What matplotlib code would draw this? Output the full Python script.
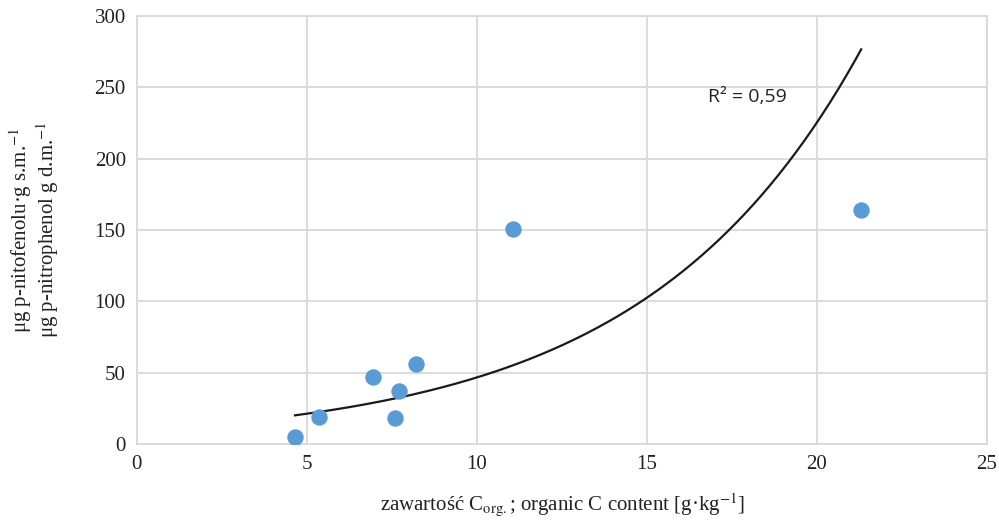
import numpy as np
import matplotlib.pyplot as plt

plt.rcParams['font.family'] = ['Liberation Serif', 'DejaVu Serif']
plt.rcParams['mathtext.fontset'] = 'stix'

# organic C content [g/kg] vs p-nitrophenol
c_org = [4.65, 5.35, 6.95, 7.6, 7.7, 8.2, 11.05, 21.3]
pnp = [5, 19, 47, 18, 37, 56, 151, 164]

# exponential trendline y = a*exp(b*x), as shown on the chart
trend_a = 9.66
trend_b = 0.1575
r2_text = 'R² = 0,59'

x_ticks = [0, 5, 10, 15, 20, 25]
y_ticks = [0, 50, 100, 150, 200, 250, 300]

x = np.array(c_org)
y = np.array(pnp)
xs = np.linspace(x.min(), x.max(), 200)
ys = trend_a * np.exp(trend_b * xs)

fig = plt.figure(figsize=(9.99, 5.27), dpi=100)
ax = fig.add_axes([0.137, 0.1575, 0.851, 0.8121])

ax.scatter(x, y, s=140, color='#5B9BD5', zorder=3, linewidths=0)
ax.plot(xs, ys, color='#1a1a1a', linewidth=1.6, zorder=2)

ax.set_xlim(0, 25)
ax.set_ylim(0, 300)
ax.set_xticks(x_ticks)
ax.set_yticks(y_ticks)
ax.grid(True, color='#d9d9d9', linewidth=1.3)
ax.set_axisbelow(True)
for s in ax.spines.values():
    s.set_color('#d9d9d9')
    s.set_linewidth(1.3)
ax.tick_params(length=0, labelsize=15, pad=8, colors='#222222')

ax.text(16.8, 243, r2_text, fontsize=14, family=['Open Sans', 'DejaVu Sans'],
        va='center', ha='left', color='#222222')

ax.set_xlabel(r'zawartość C$_{\mathrm{org.}}$; organic C content [g·kg$^{\mathrm{-1}}$]',
              fontsize=15, labelpad=12, color='#222222')
ax.set_ylabel('μg p-nitofenolu·g s.m.$^{\\mathrm{-1}}$\nμg p-nitrophenol g d.m.$^{\\mathrm{-1}}$',
              fontsize=15, labelpad=24, color='#222222', linespacing=1.0)

fig.savefig('out.png', dpi=100)
